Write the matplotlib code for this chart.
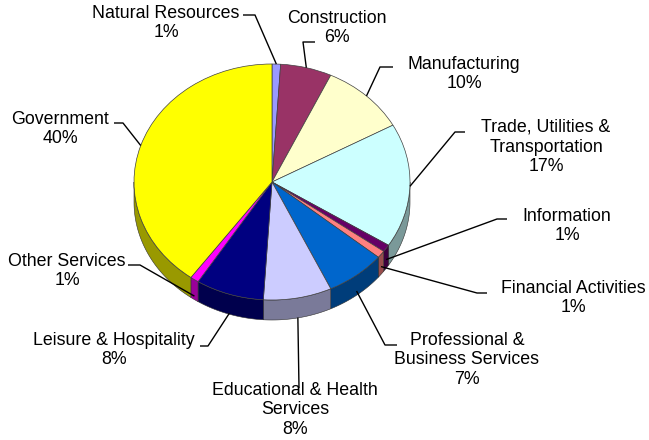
import numpy as np
import matplotlib.pyplot as plt
from matplotlib.patches import Wedge, Polygon
from matplotlib.transforms import Affine2D
from matplotlib.colors import to_rgb

plt.rcParams['font.family'] = ['Liberation Sans', 'DejaVu Sans']

# employment share by industry, clockwise from 12 o'clock
sectors = ['Natural Resources', 'Construction', 'Manufacturing',
           'Trade, Utilities &\nTransportation', 'Information',
           'Financial Activities', 'Professional &\nBusiness Services',
           'Educational & Health\nServices', 'Leisure & Hospitality',
           'Other Services', 'Government']
shares = [1, 6, 10, 17, 1, 1, 7, 8, 8, 1, 40]
colors = ['#9999FF', '#993366', '#FFFFCC', '#CCFFFF', '#660066', '#FF8080',
          '#0066CC', '#CCCCFF', '#000080', '#FF00FF', '#FFFF00']

# label block centres and leader-line elbows (pixels, y down)
label_xy = [(166, 23), (337, 28), (464, 74), (546, 147), (567, 226),
            (573, 298), (467, 360), (295, 410), (114, 350), (67, 271),
            (60, 129)]
elbow = [[(243, 15), (255, 15)], [(315, 42), (303, 42)],
         [(393, 67), (380, 67)], [(465, 132), (455, 132)],
         [(507, 219), (497, 219)], [(487, 293), (477, 293)],
         [(397, 345), (385, 345)], [(299, 388), (299, 388)],
         [(200, 346), (208, 346)], [(128, 265), (140, 265)],
         [(114, 123), (123, 123)]]

W, H = 649, 440
cx, cy, rx, ry, depth = 272, 182, 138, 118, 20

fig = plt.figure(figsize=(W / 100, H / 100), dpi=100)
ax = fig.add_axes([0, 0, 1, 1])
ax.set_xlim(0, W)
ax.set_ylim(H, 0)
ax.axis('off')

# unit circle -> tilted ellipse in pixel space
T = Affine2D().scale(rx, -ry).translate(cx, cy) + ax.transData
d = depth / ry


def darker(c, f=0.6):
    r, g, b = to_rgb(c)
    return (r * f, g * f, b * f)


bounds = np.concatenate([[0], np.cumsum(shares)]) / sum(shares)
theta_end = 90 - bounds[:-1] * 360   # larger angle
theta_start = 90 - bounds[1:] * 360  # smaller angle

# side walls on the front half
for t1, t2, c in zip(theta_start, theta_end, colors):
    for lo, hi in [(-180, 0), (-540, -360)]:
        a, b = max(t1, lo), min(t2, hi)
        if b <= a:
            continue
        ts = np.radians(np.linspace(a, b, 60))
        top = np.column_stack([np.cos(ts), np.sin(ts)])
        bot = top - [0, d]
        wall = Polygon(np.vstack([top, bot[::-1]]), closed=True,
                       facecolor=darker(c), edgecolor='#303030',
                       linewidth=0.4, transform=T)
        ax.add_patch(wall)

# top faces
for t1, t2, c in zip(theta_start, theta_end, colors):
    ax.add_patch(Wedge((0, 0), 1, t1, t2, facecolor=c, edgecolor='#404040',
                       linewidth=0.5, transform=T))

# labels with leader lines
for name, s, t1, t2, (lx, ly), (p_end, p_elb) in zip(
        sectors, shares, theta_start, theta_end, label_xy, elbow):
    m = np.radians((t1 + t2) / 2)
    px = cx + rx * np.cos(m)
    py = cy - ry * np.sin(m) + depth * max(0, -np.sin(m))
    ax.plot([p_end[0], p_elb[0], px], [p_end[1], p_elb[1], py],
            color='black', linewidth=1.0, solid_capstyle='butt')
    ax.text(lx, ly, f'{name}\n{s}%', ha='center', va='center',
            multialignment='center', fontsize=12.8, color='black')

fig.savefig('out.png', dpi=100)
